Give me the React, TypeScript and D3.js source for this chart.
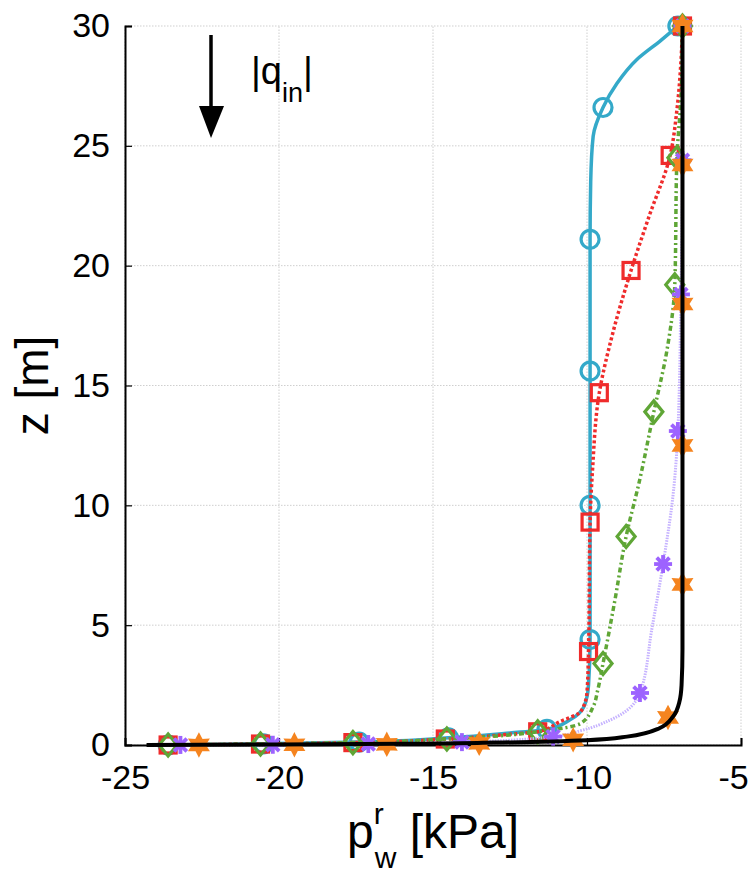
import * as d3 from 'd3';
import React, { useEffect, useRef } from 'react';

type Pt = [number, number];

// x = pressure [kPa], z = height [m]
const xTicks = [-25, -20, -15, -10, -5];
const zTicks = [0, 5, 10, 15, 20, 25, 30];

const cyanLine: Pt[] = [
  [-23.6, 0], [-20.5, 0.05], [-17.4, 0.12], [-14.5, 0.3], [-12.5, 0.5], [-11.3, 0.65],
  [-10.55, 1.05], [-10.1, 1.6], [-9.95, 2.5], [-9.9, 4.4], [-9.9, 10], [-9.9, 15.6],
  [-9.9, 21.1], [-9.88, 23.5], [-9.8, 25.4], [-9.48, 26.6], [-9.03, 27.6], [-8.38, 28.6],
  [-7.6, 29.4], [-7.05, 30],
];
const cyanMarks: Pt[] = [
  [-23.6, 0], [-20.5, 0.05], [-17.4, 0.12], [-14.5, 0.3], [-11.3, 0.65], [-9.9, 4.4],
  [-9.9, 10], [-9.9, 15.6], [-9.9, 21.1], [-9.48, 26.6], [-7.05, 30],
];

const redLine: Pt[] = [
  [-23.6, 0], [-20.6, 0.04], [-17.6, 0.1], [-14.6, 0.25], [-12.5, 0.45], [-11.6, 0.55],
  [-10.9, 0.96], [-10.2, 1.4], [-10.0, 2.2], [-9.95, 3.9], [-9.9, 9.3], [-9.82, 11.5],
  [-9.6, 14.7], [-9.2, 17], [-8.57, 19.8], [-8.0, 22], [-7.3, 24.6], [-7.08, 26.5],
  [-6.95, 28.5], [-6.9, 30],
];
const redMarks: Pt[] = [
  [-23.6, 0], [-20.6, 0.04], [-17.6, 0.1], [-14.6, 0.25], [-11.6, 0.55], [-9.95, 3.9],
  [-9.9, 9.3], [-9.6, 14.7], [-8.57, 19.8], [-7.3, 24.6], [-6.9, 30],
];

const greenLine: Pt[] = [
  [-23.6, 0], [-20.6, 0.04], [-17.6, 0.1], [-14.55, 0.25], [-12.5, 0.42], [-11.6, 0.55],
  [-10.2, 0.9], [-9.8, 1.6], [-9.65, 2.3], [-9.48, 3.4], [-9.1, 6], [-8.73, 8.7],
  [-8.3, 11], [-7.83, 13.9], [-7.4, 16.5], [-7.15, 19.2], [-7.08, 24.5], [-6.95, 27],
  [-6.9, 30],
];
const greenMarks: Pt[] = [
  [-23.6, 0], [-20.6, 0.04], [-17.6, 0.1], [-14.55, 0.25], [-11.6, 0.55], [-9.48, 3.4],
  [-8.73, 8.7], [-7.83, 13.9], [-7.15, 19.2], [-7.08, 24.5], [-6.9, 30],
];

const purpleLine: Pt[] = [
  [-23.6, 0], [-23.2, 0.003], [-20.2, 0.01], [-17.1, 0.04], [-14.06, 0.12], [-11.1, 0.35],
  [-10.2, 0.6], [-9.25, 1.04], [-8.28, 2.17], [-7.9, 4.8], [-7.53, 7.55], [-7.2, 10.5],
  [-7.05, 13.1], [-6.95, 18.8], [-6.9, 24.4], [-6.9, 30],
];
const purpleMarks: Pt[] = [
  [-23.2, 0.003], [-20.2, 0.01], [-17.1, 0.04], [-14.06, 0.12], [-11.1, 0.35], [-8.28, 2.17],
  [-7.53, 7.55], [-7.05, 13.1], [-6.95, 18.8], [-6.9, 24.4], [-6.9, 30],
];

const orangeLine: Pt[] = [
  [-23.6, 0], [-20, 0.02], [-16, 0.05], [-13, 0.1], [-10, 0.2], [-8.7, 0.35], [-7.65, 0.7],
  [-7.2, 1.2], [-7.0, 1.8], [-6.93, 2.5], [-6.9, 4], [-6.9, 30],
];
const orangeMarks: Pt[] = [
  [-22.6, 0.002], [-19.5, 0.01], [-16.5, 0.03], [-13.5, 0.07], [-10.45, 0.22], [-7.37, 1.15],
  [-6.9, 6.7], [-6.9, 12.5], [-6.9, 18.4], [-6.9, 24.2], [-6.9, 30],
];

const blackLine: Pt[] = [
  [-24.3, 0], [-20, 0.02], [-16, 0.05], [-13, 0.1], [-10, 0.2], [-8.7, 0.35], [-7.65, 0.7],
  [-7.2, 1.2], [-7.0, 1.8], [-6.93, 2.5], [-6.9, 4], [-6.9, 30],
];

const App = () => {
  const ref = useRef<SVGSVGElement>(null);

  useEffect(() => {
    const width = 754, height = 881;
    const margin = { top: 26, right: 13, bottom: 136, left: 125 };
    const svg = d3.select(ref.current);
    svg.selectAll('*').remove();

    const x = d3.scaleLinear().domain([-25, -5]).range([margin.left, width - margin.right]);
    const y = d3.scaleLinear().domain([0, 30]).range([height - margin.bottom, margin.top]);
    const font = 'Liberation Sans, Arial, sans-serif';

    // grid
    const grid = svg.append('g').attr('stroke', '#cfcfcf').attr('stroke-width', 1)
      .attr('stroke-dasharray', '1.5,1.5');
    xTicks.forEach(t => grid.append('line').attr('x1', x(t)).attr('x2', x(t))
      .attr('y1', y(0)).attr('y2', y(30)));
    zTicks.forEach(t => grid.append('line').attr('y1', y(t)).attr('y2', y(t))
      .attr('x1', x(-25)).attr('x2', x(-5)));

    // axes
    const xAxis = svg.append('g').attr('transform', `translate(0,${y(0)})`)
      .call(d3.axisBottom(x).tickValues(xTicks).tickSize(-7).tickPadding(20).tickFormat(d3.format('d')));
    const yAxis = svg.append('g').attr('transform', `translate(${x(-25)},0)`)
      .call(d3.axisLeft(y).tickValues(zTicks).tickSize(-7).tickPadding(15).tickFormat(d3.format('d')));
    [xAxis, yAxis].forEach(a => {
      a.select('.domain').attr('stroke', '#000').attr('stroke-width', 2);
      a.selectAll('.tick line').attr('stroke', '#000').attr('stroke-width', 1.2);
      a.selectAll('.tick text').attr('font-family', font).attr('font-size', 34).attr('fill', '#000');
    });
    xAxis.selectAll('.tick text').text((d: any) => String(d).replace('−', '-'))
      .attr('dx', (d: any) => (d === -5 ? -8 : 0));

    const line = d3.line<Pt>().x(d => x(d[0])).y(d => y(d[1])).curve(d3.curveMonotoneY);
    const addLine = (pts: Pt[], color: string, w: number, dash: string | null) => {
      svg.append('path').datum(pts).attr('d', line).attr('fill', 'none')
        .attr('stroke', color).attr('stroke-width', w)
        .attr('stroke-dasharray', dash).attr('stroke-linejoin', 'round');
    };

    const hexagram = (r: number) => {
      const pts: string[] = [];
      for (let i = 0; i < 12; i++) {
        const rr = i % 2 === 0 ? r : r * 0.55;
        const a = -Math.PI / 2 + (i * Math.PI) / 6;
        pts.push(`${rr * Math.cos(a)},${rr * Math.sin(a)}`);
      }
      return 'M' + pts.join('L') + 'Z';
    };

    const addMarks = (pts: Pt[], color: string, kind: string) => {
      const g = svg.append('g').attr('fill', 'none').attr('stroke', color).attr('stroke-width', 3.2);
      pts.forEach(p => {
        const px = x(p[0]), py = y(p[1]);
        if (kind === 'circle') g.append('circle').attr('cx', px).attr('cy', py).attr('r', 9);
        if (kind === 'square') g.append('rect').attr('x', px - 8).attr('y', py - 8).attr('width', 16).attr('height', 16);
        if (kind === 'diamond') g.append('path').attr('d', `M${px},${py - 11}L${px + 9},${py}L${px},${py + 11}L${px - 9},${py}Z`);
        if (kind === 'star') g.append('path').attr('transform', `translate(${px},${py})`).attr('d', hexagram(10))
          .attr('fill', color).attr('stroke-width', 2.5);
        if (kind === 'asterisk') {
          for (let k = 0; k < 4; k++) {
            const a = (k * Math.PI) / 4;
            g.append('line').attr('x1', px - 9 * Math.cos(a)).attr('y1', py - 9 * Math.sin(a))
              .attr('x2', px + 9 * Math.cos(a)).attr('y2', py + 9 * Math.sin(a)).attr('stroke-width', 3.8);
          }
          g.append('circle').attr('cx', px).attr('cy', py).attr('r', 4).attr('fill', color).attr('stroke', 'none');
        }
      });
    };

    addLine(cyanLine, '#34a9c9', 3.5, null);
    addMarks(cyanMarks, '#34a9c9', 'circle');
    addLine(redLine, '#ef2b2b', 3.5, '3,2.5');
    addMarks(redMarks, '#ef2b2b', 'square');
    addLine(greenLine, '#5fa636', 3.5, '5,3,2,3');
    addMarks(greenMarks, '#5fa636', 'diamond');
    addLine(purpleLine, '#c5b2ff', 3, '1.5,1.2');
    addMarks(purpleMarks, '#9d63ff', 'asterisk');
    addLine(orangeLine, '#f5841f', 2, null);
    addMarks(orangeMarks, '#f5841f', 'star');
    addLine(blackLine, '#000', 4, null);

    // axis labels, centred on the axes
    const xl = svg.append('text').attr('x', (x(-25) + x(-5)) / 2).attr('y', 848).attr('text-anchor', 'middle')
      .attr('font-family', font).attr('font-size', 48).attr('fill', '#000');
    xl.append('tspan').text('p');
    xl.append('tspan').attr('font-size', 30).attr('dy', -24).text('r');
    xl.append('tspan').attr('font-size', 30).attr('dx', -9).attr('dy', 44).text('w');
    xl.append('tspan').attr('dy', -20).text(' [kPa]');

    svg.append('text').attr('transform', `translate(48,${(y(0) + y(30)) / 2}) rotate(-90)`)
      .attr('text-anchor', 'middle')
      .attr('font-family', font).attr('font-size', 46).attr('fill', '#000').text('z [m]');

    // annotation arrow
    svg.append('line').attr('x1', 211).attr('x2', 211).attr('y1', 35).attr('y2', 112)
      .attr('stroke', '#000').attr('stroke-width', 3.5);
    svg.append('path').attr('d', 'M199,106L224,106L211,138Z').attr('fill', '#000');
    const q = svg.append('text').attr('x', 251).attr('y', 84).attr('font-family', font)
      .attr('font-size', 38).attr('fill', '#000');
    q.append('tspan').text('|q');
    q.append('tspan').attr('font-size', 27).attr('dy', 18).text('in');
    q.append('tspan').attr('dy', -18).text('|');
  }, []);

  return <svg ref={ref} width={754} height={881} style={{ position: 'absolute', left: 0, top: 0, background: '#fff' }} />;
};

export default App;
